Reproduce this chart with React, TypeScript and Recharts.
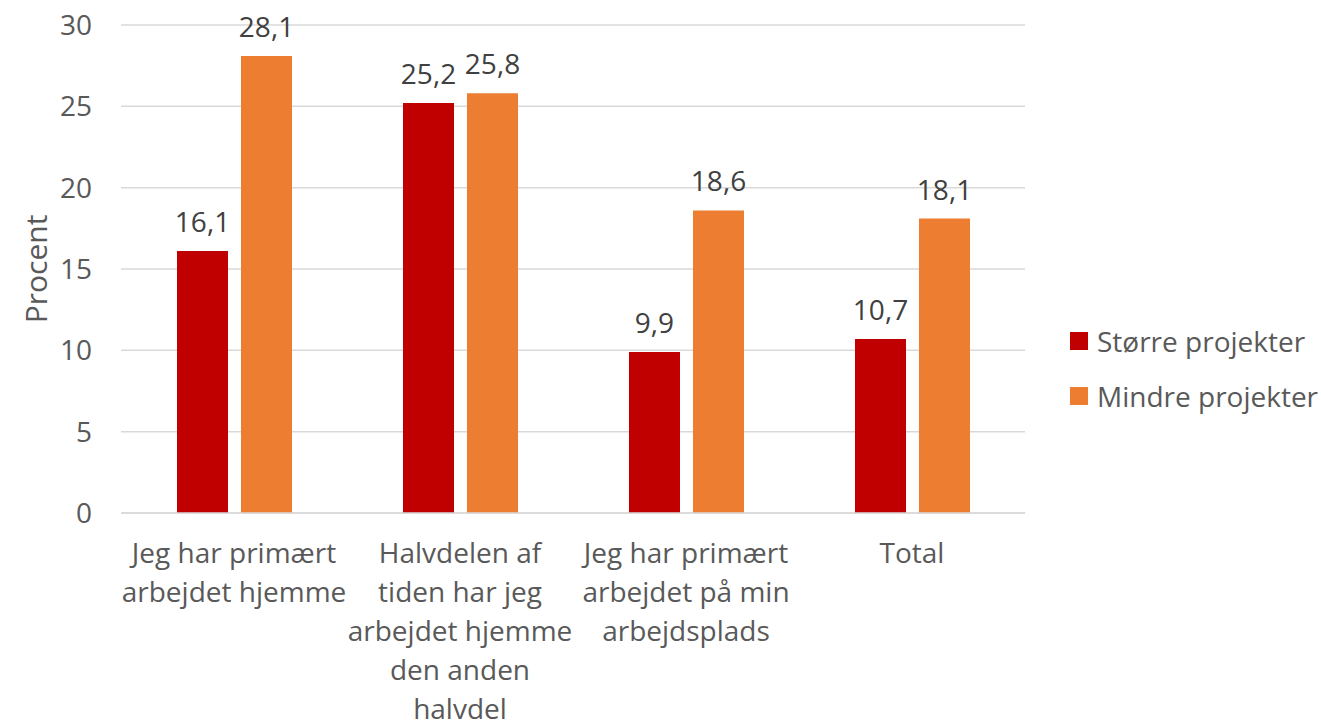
import React from 'react';
import { BarChart, Bar, XAxis, YAxis, CartesianGrid, LabelList } from 'recharts';

const categories = [
  'Jeg har primært arbejdet hjemme',
  'Halvdelen af tiden har jeg arbejdet hjemme den anden halvdel',
  'Jeg har primært arbejdet på min arbejdsplads',
  'Total',
];
const stoerre = [16.1, 25.2, 9.9, 10.7];
const mindre = [28.1, 25.8, 18.6, 18.1];
const yTicks = [0, 5, 10, 15, 20, 25, 30];

const SERIES = [
  { key: 'Større projekter', color: '#C00000' },
  { key: 'Mindre projekter', color: '#ED7D31' },
];

const FONT = '"Open Sans", sans-serif';
const TEXT = '#595959';
const FS = 28;

const data = categories.map((name, i) => ({
  name,
  'Større projekter': stoerre[i],
  'Mindre projekter': mindre[i],
}));

const wrap = (s: string, max = 15) => {
  const lines: string[] = [];
  let cur = '';
  s.split(' ').forEach((w) => {
    if (!cur) cur = w;
    else if ((cur + ' ' + w).length <= max) cur += ' ' + w;
    else {
      lines.push(cur);
      cur = w;
    }
  });
  if (cur) lines.push(cur);
  return lines;
};

const CategoryTick = (props: any) => {
  const { x, y, payload } = props;
  const lines = wrap(payload.value);
  return (
    <text x={x} y={y} textAnchor="middle" fill={TEXT} fontSize={FS} fontFamily={FONT}>
      {lines.map((l, i) => (
        <tspan key={i} x={x} y={y + 48 + i * 39}>{l}</tspan>
      ))}
    </text>
  );
};

const fmt = (v: any) => String(v).replace('.', ',');

export default function App() {
  return (
    <div style={{ position: 'relative', width: 1321, height: 721, background: '#fff' }}>
      <style>{'body{margin:0}'}</style>
      <BarChart
        width={1321}
        height={721}
        data={data}
        margin={{ top: 25, right: 296, bottom: 0, left: 0 }}
        barSize={51}
        barGap={13}
      >
        <CartesianGrid vertical={false} stroke="#D9D9D9" strokeWidth={1.5} />
        <XAxis
          dataKey="name"
          height={208}
          interval={0}
          tickLine={false}
          tickSize={0}
          axisLine={{ stroke: '#D9D9D9', strokeWidth: 1.5 }}
          tick={<CategoryTick />}
        />
        <YAxis
          width={121}
          domain={[0, 30]}
          ticks={yTicks}
          axisLine={false}
          tickLine={false}
          tickSize={0}
          tickMargin={29}
          tick={{ fill: TEXT, fontSize: FS, fontFamily: FONT }}
        />
        {SERIES.map((s) => (
          <Bar key={s.key} dataKey={s.key} fill={s.color} isAnimationActive={false}>
            <LabelList
              dataKey={s.key}
              position="top"
              offset={19}
              formatter={fmt}
              fill="#404040"
              fontSize={FS}
              fontFamily={FONT}
            />
          </Bar>
        ))}
        <text
          x={35}
          y={269}
          transform="rotate(-90 35 269)"
          textAnchor="middle"
          dominantBaseline="central"
          fill={TEXT}
          fontSize={FS + 2}
          fontFamily={FONT}
        >
          Procent
        </text>
      </BarChart>
      <div style={{ position: 'absolute', left: 1070, top: 313, fontFamily: FONT, fontSize: FS, color: TEXT }}>
        {SERIES.map((s) => (
          <div key={s.key} style={{ display: 'flex', alignItems: 'center', height: 55 }}>
            <span style={{ width: 18, height: 18, background: s.color, marginRight: 9, display: 'inline-block' }} />
            <span>{s.key}</span>
          </div>
        ))}
      </div>
    </div>
  );
}
